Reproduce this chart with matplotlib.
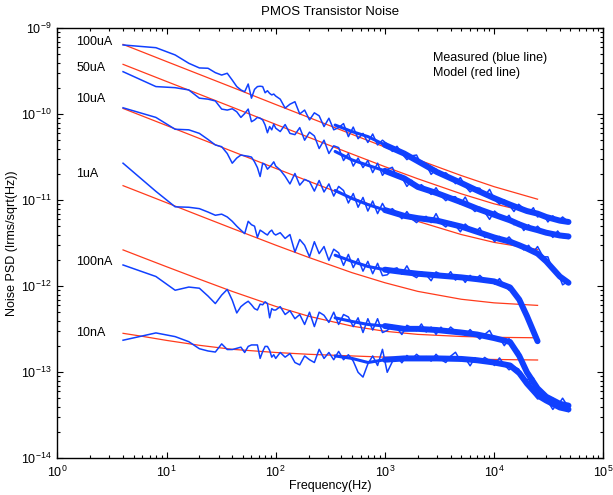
import numpy as np
import matplotlib
matplotlib.use('Agg')
import matplotlib.pyplot as plt
from matplotlib.ticker import FixedLocator, LogFormatterSciNotation, NullFormatter

plt.rcParams['font.family'] = ['Liberation Sans', 'DejaVu Sans']
plt.rcParams['mathtext.fontset'] = 'custom'
plt.rcParams['mathtext.rm'] = 'Liberation Sans'
plt.rcParams['mathtext.it'] = 'Liberation Sans:italic'
plt.rcParams['mathtext.bf'] = 'Liberation Sans:bold'
plt.rcParams['mathtext.default'] = 'regular'

# ---------------- data (PSD values in pA/sqrt(Hz)) ----------------
labels = ['100uA', '50uA', '10uA', '1uA', '100nA', '10nA']

freq_low = [4, 8, 12, 16, 20, 24, 28, 32, 36, 40, 44, 48, 52, 56, 60,
            64, 68, 72, 76, 80, 84, 88, 92, 96, 100]
freq_mid = [110, 122, 135, 150, 166, 184, 204, 226, 250, 277, 307, 340, 377,
            418, 463, 513, 568, 630, 698, 773, 857, 950, 1050, 1170, 1290,
            1430, 1590, 1760, 1950, 2160, 2390, 2650, 2940, 3260, 3610, 4000,
            4430, 4910, 5440, 6030, 6680, 7400, 8200, 9090, 10100, 11200,
            12400, 13700, 15200, 16800, 18700, 20700, 22900, 25000, 28100,
            31100, 34500, 38200, 42400, 48000]
freq_core = [350, 500, 700, 1000, 1500, 2000, 3000, 5000, 7000, 10000, 14000,
             17000, 20000, 25000, 30000, 40000, 48000]
freq_model = [4, 6, 10, 20, 40, 100, 200, 500, 1000, 2000, 5000, 10000, 25000]

nan = float('nan')

meas_100uA_low = [640, 595, 490, 392, 346, 343, 305, 286, 300, 250, 210, 192, 183,
                  225, 154, 195, 210, 212, 210, 178, 188, 175, 168, 172, 163]
meas_100uA_mid = [150, 118, 131, 140, 101, 112, 86, 104, 96, 72, 90, 66, 70, 78,
                  55, 71, 52, 60, 47, 59, 44, 50,
                  45, 37, 42.5, 35, 29.7, 32.9, 33.6, 25.7, 25.8, 20, 23, 19.7,
                  20.9, 18.4, 15.6, 18.4, 14.6, 12.5, 14, 13.8, 11.3, 13.4, 10.2,
                  9, 10.1, 8.9, 7.4, 9.0, 8.0, 7.1, 8.2, 6.4, 6.9, 5.6, 6.6, 5.7,
                  6.4, 5.6]
meas_100uA_core = [75, 63, 55, 44, 35, 28.5, 21.3, 15.9, 13, 10.6, 8.9, 8.1, 7.5,
                   7.0, 6.4, 5.8, 5.6]

meas_50uA_low = [313, 210, 204, 192, 154, 150, 143, 115, 112, 116, 107, 92, 102,
                 115, 82, 86, 92, 90, 86, 75, 61, 72, 66, 77, 69]
meas_50uA_mid = [63, 76, 60, 58, 70, 50, 62, 56, 40, 50, 35, 43, 41, 29, 35, 25,
                 31, 24, 29, 21, 27, 19.5,
                 22.8, 24.2, 18.5, 18.5, 14.5, 17.1, 13.9, 15.2, 13.5, 11.7, 14,
                 11.3, 9.9, 11, 11, 9.0, 10.9, 8.4, 7.4, 8.3, 7.3, 6.0, 7.5, 6.7,
                 5.9, 6.7, 5.2, 5.6, 4.45, 5.2, 4.5, 5.0, 4.3, 4.35, 3.7, 4.4,
                 3.7, 3.6]
meas_50uA_core = [37, 29.5, 25.5, 22, 18, 14.3, 12.1, 9.5, 8.0, 6.8, 5.85, 5.25,
                  4.85, 4.5, 4.2, 3.9, 3.8]

meas_10uA_low = [119, 92, 67, 66, 60, 51, 44, 42, 35, 27, 31, 33.6, 33, 32.5, 31.8,
                 28, 24, 18.9, 27, 26, 23, 24.4, 26, 28, 25]
meas_10uA_mid = [22.5, 19, 15.5, 20.5, 15, 17.5, 16.5, 12.8, 17, 12.5, 15.5, 11.2,
                 14.5, 13, 9.3, 12, 8.3, 10.8, 7.5, 9.8, 7.0, 9.2,
                 7.3, 8.0, 7.1, 6.1, 7.4, 6.1, 5.5, 6.3, 6.5, 5.5, 7.0, 5.4, 4.9,
                 5.6, 5.1, 4.3, 5.3, 4.7, 4.2, 4.8, 3.7, 4.0, 3.3, 3.8, 3.35,
                 3.75, 3.2, 3.15, 2.65, 3.0, 2.5, 2.9, 2.2, 2.2, 1.5, 1.45, 1.04,
                 1.15]
meas_10uA_core = [13, 10.5, 8.9, 7.7, 6.6, 6.2, 5.8, 4.95, 4.3, 3.7, 3.3, 3.0,
                  2.75, 2.4, 1.95, 1.3, 1.1]

meas_1uA_low = [27, 12.7, 8.4, 8.3, 8.0, 7.3, 6.7, 6.9, 6.4, 5.7, 5.0, 4.5, 4.1,
                5.7, 5.2, 5.0, 3.7, 4.5, 4.3, 4.1, 3.95, 4.3, 4.5, 4.1, 3.95]
meas_1uA_mid = [4.2, 3.6, 4.0, 2.5, 3.5, 3.0, 2.2, 3.3, 2.4, 2.9, 2.0, 2.7, 2.45,
                1.75, 2.35, 1.65, 2.1, 1.5, 1.95, 1.4, 1.85, 1.33,
                1.36, 1.58, 1.64, 1.38, 1.73, 1.36, 1.26, 1.47, 1.36, 1.16, 1.47,
                1.37, 1.24, 1.48, 1.18, 1.33, 1.11, 1.34, 1.18, 1.34, 1.18, 1.22,
                1.06, 1.23, 1.02, 0.9, 0.9, 0.74, 0.52, 0.43, 0.28, 0.23,
                nan, nan, nan, nan, nan, nan]
meas_1uA_core = [2.3, 1.95, 1.7, 1.56, 1.46, 1.4, 1.34, 1.27, 1.21, 1.14, 0.97,
                 0.7, 0.45, 0.23, nan, nan, nan]

meas_100nA_low = [1.77, 1.3, 0.90, 0.98, 0.95, 0.77, 0.63, 0.79, 0.92, 0.69, 0.49,
                  0.58, 0.63, 0.67, 0.61, 0.55, 0.53, 0.62, 0.61, 0.66, 0.63, 0.43,
                  0.55, 0.53, 0.53]
meas_100nA_mid = [0.58, 0.47, 0.52, 0.42, 0.47, 0.36, 0.5, 0.34, 0.5, 0.46, 0.38,
                  0.5, 0.36, 0.47, 0.44, 0.34, 0.43, 0.29, 0.42, 0.31, 0.42, 0.29,
                  0.306, 0.35, 0.327, 0.275, 0.352, 0.33, 0.304, 0.365, 0.294,
                  0.336, 0.276, 0.335, 0.291, 0.336, 0.3, 0.305, 0.27, 0.314,
                  0.272, 0.243, 0.276, 0.307, 0.238, 0.252, 0.204, 0.246, 0.192,
                  0.176, 0.122, 0.087, 0.086, 0.063, 0.049, 0.052, 0.05, 0.041,
                  0.05, 0.039]
meas_100nA_core = [0.43, 0.39, 0.36, 0.345, 0.32, 0.32, 0.31, 0.29, 0.275, 0.25,
                   0.225, 0.155, 0.1, 0.065, 0.052, 0.043, 0.041]

meas_10nA_low = [0.236, 0.287, 0.26, 0.227, 0.188, 0.177, 0.172, 0.214, 0.184,
                 0.184, 0.19, 0.196, 0.17, 0.2, 0.208, 0.208, 0.208, 0.145, 0.175,
                 0.2, 0.2, 0.18, 0.15, 0.16, 0.145]
meas_10nA_mid = [0.17, 0.15, 0.165, 0.13, 0.122, 0.155, 0.14, 0.13, 0.185, 0.145,
                 0.17, 0.14, 0.175, 0.14, 0.16, 0.135, 0.1, 0.088, 0.125, 0.155,
                 0.12, 0.185,
                 0.1, 0.133, 0.152, 0.129, 0.157, 0.141, 0.162, 0.145, 0.152,
                 0.135, 0.162, 0.141, 0.13, 0.154, 0.171, 0.136, 0.146, 0.119,
                 0.148, 0.132, 0.149, 0.136, 0.12, 0.147, 0.122, 0.107, 0.116,
                 0.109, 0.078, 0.084, 0.058, 0.049, 0.052, 0.046, 0.037, 0.044,
                 0.039, 0.035]
meas_10nA_core = [0.155, 0.145, 0.13, 0.14, 0.145, 0.145, 0.145, 0.143, 0.138,
                  0.13, 0.12, 0.098, 0.074, 0.054, 0.047, 0.039, 0.037]

model_100uA = [650, 531, 411, 291, 206, 130, 92.1, 58.5, 41.6, 29.7, 19.4, 14.4, 10.3]
model_50uA = [381, 311, 241, 171, 121, 76.4, 54.1, 34.5, 24.6, 17.8, 11.9, 9.1, 6.9]
model_10uA = [117, 95.6, 74.1, 52.4, 37.1, 23.5, 16.7, 10.7, 7.73, 5.69, 4.0, 3.24, 2.68]
model_1uA = [14.8, 12.1, 9.38, 6.64, 4.71, 3.01, 2.17, 1.44, 1.10, 0.873, 0.707, 0.642, 0.60]
model_100nA = [2.65, 2.17, 1.69, 1.21, 0.872, 0.584, 0.449, 0.344, 0.30, 0.276, 0.261, 0.255, 0.252]
model_10nA = [0.284, 0.262, 0.235, 0.206, 0.185, 0.17, 0.162, 0.155, 0.15, 0.146, 0.143, 0.141, 0.139]

x_ticks = [1, 10, 100, 1000, 10000, 100000]
y_ticks = [1e-14, 1e-13, 1e-12, 1e-11, 1e-10, 1e-9]

# ---------------- figure ----------------
W, H = 613, 495
fig = plt.figure(figsize=(W / 100, H / 100), dpi=100)
ax = fig.add_axes([57.3 / W, 1 - 458.3 / H, 546 / W, 430 / H])

BLUE = '#1040ff'
RED = '#ff3b1c'
PA = 1e-12

measured = [
    (meas_100uA_low, meas_100uA_mid, meas_100uA_core),
    (meas_50uA_low, meas_50uA_mid, meas_50uA_core),
    (meas_10uA_low, meas_10uA_mid, meas_10uA_core),
    (meas_1uA_low, meas_1uA_mid, meas_1uA_core),
    (meas_100nA_low, meas_100nA_mid, meas_100nA_core),
    (meas_10nA_low, meas_10nA_mid, meas_10nA_core),
]
models = [model_100uA, model_50uA, model_10uA, model_1uA, model_100nA, model_10nA]

for mdl in models:
    ax.plot(freq_model, np.array(mdl) * PA, color=RED, lw=0.9, zorder=2)

fc = np.array(freq_core, dtype=float)
for low, mid, core in measured:
    f = np.array(freq_low + freq_mid, dtype=float)
    v = np.array(low + mid, dtype=float) * PA
    ax.plot(f, v, color=BLUE, lw=1.1, zorder=3)
    c = np.array(core, dtype=float) * PA
    ax.plot(fc[:4], c[:4], color=BLUE, lw=2.2, zorder=3,
            solid_capstyle='round', solid_joinstyle='round')
    ax.plot(fc[3:], c[3:], color=BLUE, lw=4.3, zorder=3,
            solid_capstyle='round', solid_joinstyle='round')

ax.set_xscale('log')
ax.set_yscale('log')
ax.set_xlim(1, 1e5)
ax.set_ylim(1e-14, 1e-9)

minor_x = [m * 10.0 ** e for e in range(0, 5) for m in range(2, 10)]
minor_y = [m * 10.0 ** e for e in range(-14, -9) for m in range(2, 10)]
ax.xaxis.set_major_locator(FixedLocator(x_ticks))
ax.yaxis.set_major_locator(FixedLocator(y_ticks))
ax.xaxis.set_minor_locator(FixedLocator(minor_x))
ax.yaxis.set_minor_locator(FixedLocator(minor_y))
for a in (ax.xaxis, ax.yaxis):
    a.set_major_formatter(LogFormatterSciNotation())
    a.set_minor_formatter(NullFormatter())

ax.tick_params(which='both', direction='in', top=True, right=True,
               labelsize=9, width=0.8, colors='black')
ax.tick_params(which='major', length=4)
ax.tick_params(which='minor', length=2.2)
ax.tick_params(axis='x', pad=5)
ax.tick_params(axis='y', pad=4)
for s in ax.spines.values():
    s.set_linewidth(1.0)

fig.text(330.3 / W, 1 - 486 / H, 'Frequency(Hz)', fontsize=9,
         ha='center', va='center')
fig.text(12 / W, 1 - 243.3 / H, 'Noise PSD (Irms/sqrt(Hz))', fontsize=9,
         ha='center', va='center', rotation=90)
fig.text(330.3 / W, 1 - 12 / H, 'PMOS Transistor Noise', fontsize=9.5,
         ha='center', va='center')

label_y = [6.88e-10, 3.48e-10, 1.49e-10, 2.0e-11, 1.93e-12, 2.88e-13]
for name, yv in zip(labels, label_y):
    ax.text(1.5, yv, name, fontsize=9, va='center', ha='left')

ax.text(2775, 4.48e-10, 'Measured (blue line)', fontsize=9, va='center', ha='left')
ax.text(2775, 3.05e-10, 'Model (red line)', fontsize=9, va='center', ha='left')

fig.savefig('out.png', dpi=100)
